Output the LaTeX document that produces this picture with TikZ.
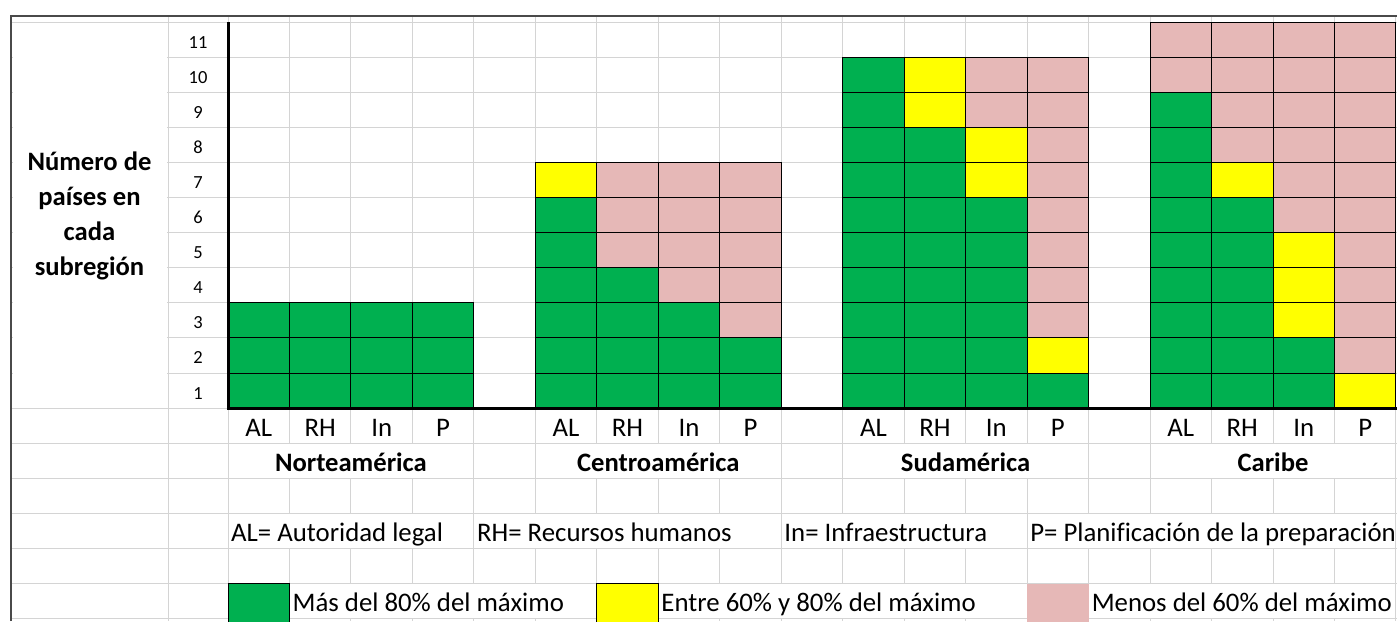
\documentclass[tikz,border=0pt]{standalone}
\usepackage{fontspec}
\setmainfont{Carlito}[Ligatures=CommonOff]
\definecolor{cgreen}{HTML}{00B050}
\definecolor{cyellow}{HTML}{FFFF00}
\definecolor{cpink}{HTML}{E6B8B7}
\definecolor{gridc}{HTML}{D4D4D4}
\definecolor{framec}{HTML}{4A4A4A}
\def\cw{61.47}
\def\rh{35.1}
\def\xo{228}
\def\yo{22}
\tikzset{
  gridline/.style={draw=gridc, line width=1pt},
  cellbox/.style={draw=black, line width=1pt},
  numtxt/.style={anchor=base, inner sep=0pt, font=\fontsize{18.5}{20}\selectfont},
  lbltxt/.style={anchor=base, inner sep=0pt, font=\fontsize{26.8}{28}\selectfont},
  grptxt/.style={anchor=base, inner sep=0pt, font=\fontsize{26.6}{28}\selectfont\bfseries},
  legtxt/.style={anchor=base west, inner sep=0pt, font=\fontsize{26.8}{28}\selectfont},
  cover/.style={fill=white, draw=none}
}
\begin{document}
\begin{tikzpicture}[x=1pt,y=-1pt]
\clip (0,0) rectangle (1397,621);
\fill[white] (0,0) rectangle (1397,621);
% grid
\draw[gridline] (168,16) -- (168,621);
\foreach \k in {0,...,19} \draw[gridline] ({\xo+\cw*\k},16) -- ({\xo+\cw*\k},621);
\foreach \j in {0,...,17} \draw[gridline] (11,{\yo+\rh*\j}) -- (1397,{\yo+\rh*\j});
% merged / overflow areas
\fill[cover] (12.5,{\yo+0.6}) rectangle (167.4,{\yo+11*\rh-0.6});
\foreach \s in {0,5,10,15}
  \fill[cover] ({\xo+\cw*\s+0.6},{\yo+12*\rh+0.6}) rectangle ({\xo+\cw*(\s+4)-0.6},{\yo+13*\rh-0.6});
\foreach \a/\b in {0/4,4/9,9/13,13/19}
  \fill[cover] ({\xo+\cw*\a+0.6},{\yo+14*\rh+0.6}) rectangle ({\xo+\cw*\b-0.6},{\yo+15*\rh-0.6});
\foreach \a/\b in {1/6,7/13,14/19}
  \fill[cover] ({\xo+\cw*\a+0.6},{\yo+16*\rh+0.6}) rectangle ({\xo+\cw*\b-0.6},{\yo+17*\rh-0.6});
% colored cells: column / green / yellow / pink counts from bottom
\foreach \k/\g/\yy/\p in {0/3/0/0,1/3/0/0,2/3/0/0,3/3/0/0,
    5/6/1/0,6/4/0/3,7/3/0/4,8/2/0/5,
    10/10/0/0,11/8/2/0,12/6/2/2,13/1/1/8,
    15/9/0/2,16/6/1/4,17/2/3/6,18/0/1/10}{
  \pgfmathtruncatemacro\gy{\g+\yy}
  \pgfmathtruncatemacro\tot{\g+\yy+\p}
  \foreach \r in {1,...,11}{
    \ifnum\r>\tot\relax\else
      \ifnum\r>\g\relax
        \ifnum\r>\gy\relax\def\cc{cpink}\else\def\cc{cyellow}\fi
      \else\def\cc{cgreen}\fi
      \filldraw[cellbox, fill=\cc] ({\xo+\cw*\k},{\yo+\rh*(11-\r)}) rectangle ++(\cw,\rh);
    \fi
  }
}
% axes
\draw[line width=3pt] (\xo,\yo) -- (\xo,{\yo+11*\rh}) -- (1397,{\yo+11*\rh});
% frame
\draw[framec, line width=2.8pt] (11,621) -- (11,16) -- (1397,16);
% y numbers
\foreach \r in {1,...,11}
  \node[numtxt] (num\r) at (198,{\yo+\rh*(11-\r)+26}) {\r};
% y title
\node[align=center, inner sep=0pt, font=\fontsize{26.6}{35}\selectfont\bfseries] (ytitle) at (89.5,216) {Número de\\países en\\cada\\subregión};
% category labels
\foreach \s in {0,5,10,15}
  \foreach \c/\t in {0/AL,1/RH,2/In,3/P}
    \node[lbltxt] (lab\s-\c) at ({\xo+\cw*(\s+\c+0.5)},{\yo+11*\rh+28}) {\t};
% group names
\foreach \s/\t in {0/Norteamérica,5/Centroamérica,10/Sudamérica,15/Caribe}
  \node[grptxt] (grp\s) at ({\xo+\cw*(\s+2)},{\yo+12*\rh+28}) {\t};
% abbreviation legend
\node[legtxt] (abAL) at ({\xo+3},{\yo+14*\rh+28}) {AL= Autoridad legal};
\node[legtxt] (abRH) at ({\xo+\cw*4+3},{\yo+14*\rh+28}) {RH= Recursos humanos};
\node[legtxt] (abIn) at ({\xo+\cw*9+3},{\yo+14*\rh+28}) {In= Infraestructura};
\node[legtxt] (abP) at ({\xo+\cw*13+3},{\yo+14*\rh+28}) {P= Planificación de la preparación};
% colour legend
\filldraw[cellbox, line width=0.8pt, fill=cgreen] ({\xo},{\yo+16*\rh}) rectangle ++(\cw,40);
\filldraw[cellbox, line width=0.8pt, fill=cyellow] ({\xo+\cw*6},{\yo+16*\rh}) rectangle ++(\cw,40);
\fill[cpink] ({\xo+\cw*13},{\yo+16*\rh}) rectangle ++(\cw,40);
\node[legtxt] (lgG) at ({\xo+\cw+3},{\yo+16*\rh+28}) {Más del 80\% del máximo};
\node[legtxt] (lgY) at ({\xo+\cw*7+3},{\yo+16*\rh+28}) {Entre 60\% y 80\% del máximo};
\node[legtxt] (lgP) at ({\xo+\cw*14+3},{\yo+16*\rh+28}) {Menos del 60\% del máximo};
\end{tikzpicture}
\end{document}
